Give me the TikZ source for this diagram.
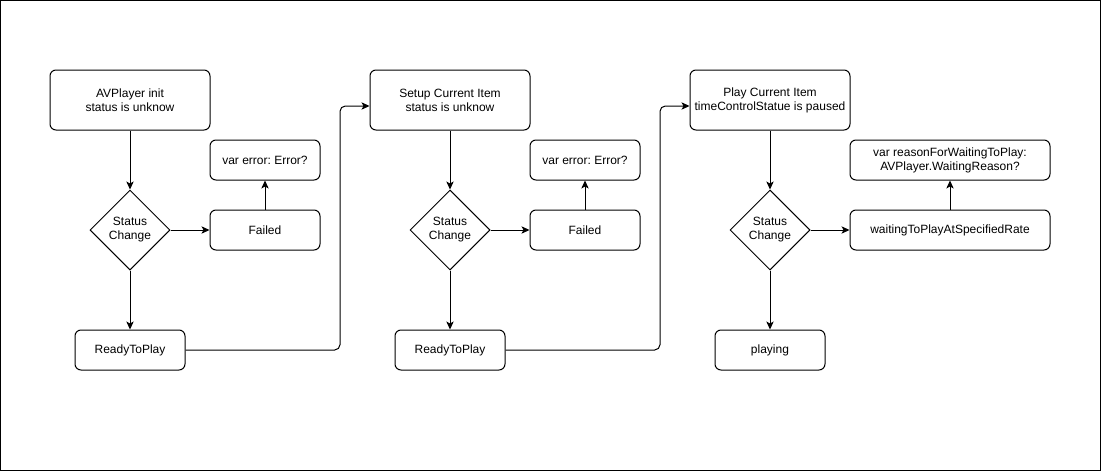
\documentclass[tikz,border=0pt]{standalone}
\usepackage{fontspec}
\setmainfont{Liberation Sans}
\usetikzlibrary{shapes.geometric,arrows.meta}
\frenchspacing
\begin{document}
\begin{tikzpicture}[x=0.75pt,y=-0.75pt,
  every node/.style={font=\fontsize{9}{10.5}\selectfont\frenchspacing, align=center, line width=0.75pt, inner sep=0pt},
  bigbox/.style={draw, rounded corners=4.5pt, minimum width=120pt, minimum height=45pt},
  smallbox/.style={draw, rounded corners=4.5pt, minimum width=82.5pt, minimum height=30pt},
  widebox/.style={draw, rounded corners=4.5pt, minimum width=150pt, minimum height=30pt},
  decision/.style={draw, diamond, minimum width=60pt, minimum height=60pt},
  arr/.style={line width=0.75pt, -{Stealth[length=6pt,width=5.5pt,inset=1.5pt]}},
  link/.style={arr, rounded corners=4pt}]
\useasboundingbox (0,0) rectangle (1101,471);
\draw[line width=0.75pt] (0.5,0.5) rectangle (1100.5,470.5);

% panel 1
\node[bigbox] (init) at (130,100) {AVPlayer init\\status is unknow};
\node[decision] (d1) at (130,230) {Status\\Change};
\node[smallbox] (f1) at (265,230) {Failed};
\node[smallbox] (e1) at (265,160) {var error: Error?};
\node[smallbox] (r1) at (130,350) {ReadyToPlay};

% panel 2
\node[bigbox] (setup) at (450,100) {Setup Current Item\\status is unknow};
\node[decision] (d2) at (450,230) {Status\\Change};
\node[smallbox] (f2) at (585,230) {Failed};
\node[smallbox] (e2) at (585,160) {var error: Error?};
\node[smallbox] (r2) at (450,350) {ReadyToPlay};

% panel 3
\node[bigbox] (play) at (770,100) {Play Current Item\\timeControlStatue is paused};
\node[decision] (d3) at (770,230) {Status\\Change};
\node[widebox] (w3) at (950,230) {waitingToPlayAtSpecifiedRate};
\node[widebox] (e3) at (950,160) {var reasonForWaitingToPlay:\\AVPlayer.WaitingReason?};
\node[smallbox] (p3) at (770,350) {playing};

% connectors
\draw[arr] (init) -- (d1);
\draw[arr] (d1) -- (f1);
\draw[arr] (f1) -- (e1);
\draw[arr] (d1) -- (r1);
\draw[link] (r1.east) -- (340,350) -- (340,106) -- (setup.west |- 0,106);

\draw[arr] (setup) -- (d2);
\draw[arr] (d2) -- (f2);
\draw[arr] (f2) -- (e2);
\draw[arr] (d2) -- (r2);
\draw[link] (r2.east) -- (660,350) -- (660,106) -- (play.west |- 0,106);

\draw[arr] (play) -- (d3);
\draw[arr] (d3) -- (w3);
\draw[arr] (w3) -- (e3);
\draw[arr] (d3) -- (p3);
\end{tikzpicture}
\end{document}
